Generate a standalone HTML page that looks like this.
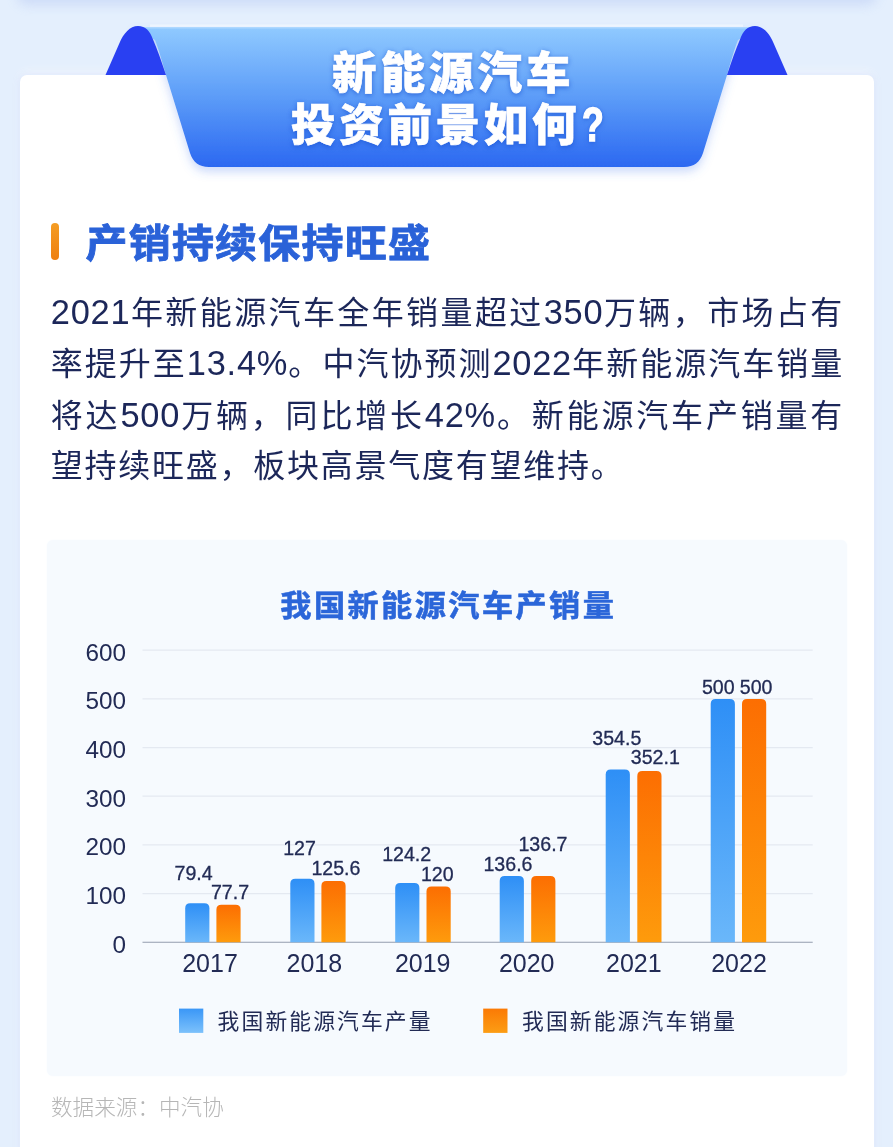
<!DOCTYPE html>
<html lang="zh-CN">
<head>
<meta charset="utf-8">
<title>新能源汽车投资前景如何?</title>
<style>
  html, body { margin: 0; padding: 0; }
  body {
    width: 893px; height: 1147px; overflow: hidden; position: relative;
    background: #e4effd;
    font-family: "Liberation Sans", "Noto Sans CJK SC", sans-serif;
  }
  .abs { position: absolute; }
  .topshadow {
    left: 19px; top: -40px; width: 856px; height: 40px; background: #fff;
    border-radius: 8px;
    box-shadow: 0 3px 11px 2px rgba(160,180,240,0.32);
  }
  .card {
    left: 20.3px; top: 75px; width: 853.5px; height: 1100px; background: #fff;
    border-radius: 7px;
    box-shadow: 0 0 7px rgba(150,170,245,0.25), 0 -4px 10px rgba(255,255,255,0.55);
  }
  .ribbon { left: 0; top: 0; width: 893px; height: 200px; }
  .title {
    color: #fff;
    font-weight: 900; font-size: 44.5px; line-height: 52px; white-space: nowrap; -webkit-text-stroke: 0.7px #fff;
    text-shadow: 0 2px 5px rgba(25,80,205,0.55), 0 0 4px rgba(30,90,215,0.35);
  }
  .title .q { display: inline-block; font-size: 43.5px; -webkit-text-stroke: 1.3px #fff; letter-spacing: 0; margin-left: 2px; transform: scale(0.82,1.12); transform-origin: 0 84%; }
  .t1 { left: 332px; top: 47.7px; letter-spacing: 4.0px; }
  .t2 { left: 291px; top: 100.2px; letter-spacing: 3.7px; }
  .hbar {
    left: 51.4px; top: 223.4px; width: 7.5px; height: 36.8px; border-radius: 4px;
    background: linear-gradient(180deg, #f59d24 0%, #ee7f10 100%);
  }
  .h2 {
    left: 85.5px; top: 214px; font-size: 42px; line-height: 60px; font-weight: 700; letter-spacing: 1.2px; -webkit-text-stroke: 0.9px #2a62d8;
    color: #2a62d8; white-space: nowrap;
    transform: scaleY(0.92); transform-origin: 0 27.5px;
  }
  .para {
    left: 50.8px; top: 287px; width: 793.3px; color: #1c2759;
    font-size: 32px; line-height: 51.4px; letter-spacing: 1.75px;
  }
  .para div { white-space: nowrap; height: 51.4px; text-align: justify; text-align-last: justify; }
  .para .n { font-size: 34.4px; letter-spacing: 0.75px; }
  .para div.last { text-align: left; text-align-last: left; letter-spacing: 1.75px; }
  .chartbox {
    left: 47.3px; top: 540.4px; width: 799.6px; height: 535.6px; border-radius: 6px;
    background: #f6fafe; box-shadow: 0 0 2px #f6fafe;
  }
  .chart { left: 0; top: 0; width: 893px; height: 1147px; }
  .src {
    left: 51px; top: 1092.6px; font-size: 21.6px; line-height: 30px; color: #b6b6b6;
    font-weight: 300; white-space: nowrap;
  }
</style>
</head>
<body>
<div class="abs topshadow"></div>
<div class="abs card"></div>

<svg class="abs ribbon" viewBox="0 0 893 200">
  <defs>
    <linearGradient id="rg" x1="0" y1="0" x2="0" y2="1">
      <stop offset="0" stop-color="#90caff"/>
      <stop offset="0.5" stop-color="#5c9cf8"/>
      <stop offset="1" stop-color="#2b68f1"/>
    </linearGradient>
    <filter id="rs" x="-5%" y="-10%" width="110%" height="135%">
      <feGaussianBlur in="SourceAlpha" stdDeviation="5"/>
      <feOffset dx="0" dy="5" result="b"/>
      <feFlood flood-color="#4a7df0" flood-opacity="0.28"/>
      <feComposite in2="b" operator="in"/>
      <feMerge><feMergeNode/><feMergeNode in="SourceGraphic"/></feMerge>
    </filter>
  </defs>
  <path filter="url(#rs)" fill="url(#rg)"
        d="M132,27 L761,27 L738,40 C734.5,49 731,61 727,75 L703,153 C700,162 694,167 684,167 L209,167 C199,167 193,162 190,153 L166,75 C162,61 158.5,49 155,40 Z"/>
  <path d="M150,25.6 L743,25.6" stroke="#ffffff" stroke-width="2.2" fill="none" opacity="0.45"/>
  <path d="M144,27.7 L749,27.7" stroke="#b4dbff" stroke-width="1.4" fill="none" opacity="0.8"/>
  <path d="M105.5,75 L119.5,43 C123.5,33.5 130,26 138,26 C145.5,26 150,31 153,39.5 C157,49 161.5,61 166,75 Z" fill="#2940f2"/>
  <path d="M787.5,75 L773.5,43 C769.5,33.5 763,26 755,26 C747.5,26 743,31 740,39.5 C736,49 731.5,61 727,75 Z" fill="#2940f2"/>
</svg>

<div class="abs title t1">新能源汽车</div>
<div class="abs title t2">投资前景如何<span class="q">?</span></div>

<div class="abs hbar"></div>
<div class="abs h2">产销持续保持旺盛</div>

<div class="abs para">
  <div><span class="n">2021</span>年新能源汽车全年销量超过<span class="n">350</span>万辆，市场占有</div>
  <div>率提升至<span class="n">13.4%</span>。中汽协预测<span class="n">2022</span>年新能源汽车销量</div>
  <div>将达<span class="n">500</span>万辆，同比增长<span class="n">42%</span>。新能源汽车产销量有</div>
  <div class="last">望持续旺盛，板块高景气度有望维持。</div>
</div>

<div class="abs chartbox"></div>
<!--CHART_START-->
<svg class="abs chart" viewBox="0 0 893 1147" font-family="Liberation Sans, Noto Sans CJK SC, sans-serif">
  <defs>
    <linearGradient id="gb" x1="0" y1="0" x2="0" y2="1"><stop offset="0" stop-color="#2e8ff6"/><stop offset="1" stop-color="#6ab7fa"/></linearGradient>
    <linearGradient id="go" x1="0" y1="0" x2="0" y2="1"><stop offset="0" stop-color="#fc6e02"/><stop offset="1" stop-color="#fe9b0c"/></linearGradient>
    <linearGradient id="lb" x1="0" y1="0" x2="0" y2="1"><stop offset="0" stop-color="#3a97f7"/><stop offset="1" stop-color="#7cc1fb"/></linearGradient>
    <linearGradient id="lo" x1="0" y1="0" x2="0" y2="1"><stop offset="0" stop-color="#fb7a05"/><stop offset="1" stop-color="#fc9d14"/></linearGradient>
  </defs>
  <text x="448.3" y="617" text-anchor="middle" font-size="31.2" font-weight="700" fill="#2b66d9" stroke="#2b66d9" stroke-width="0.6" letter-spacing="2.4" transform="translate(0,605.5) scale(1,0.94) translate(0,-605.5)">我国新能源汽车产销量</text>
  <line x1="142.5" x2="812.7" y1="650.2" y2="650.2" stroke="#e4e9f1" stroke-width="1.2"/>
  <line x1="142.5" x2="812.7" y1="698.9" y2="698.9" stroke="#e4e9f1" stroke-width="1.2"/>
  <line x1="142.5" x2="812.7" y1="747.6" y2="747.6" stroke="#e4e9f1" stroke-width="1.2"/>
  <line x1="142.5" x2="812.7" y1="796.2" y2="796.2" stroke="#e4e9f1" stroke-width="1.2"/>
  <line x1="142.5" x2="812.7" y1="844.9" y2="844.9" stroke="#e4e9f1" stroke-width="1.2"/>
  <line x1="142.5" x2="812.7" y1="893.6" y2="893.6" stroke="#e4e9f1" stroke-width="1.2"/>
  <line x1="142.5" x2="812.7" y1="942.3" y2="942.3" stroke="#939cae" stroke-width="1.1"/>
  <text x="126" y="660.5" text-anchor="end" font-size="24.3" fill="#222b55">600</text>
  <text x="126" y="709.2" text-anchor="end" font-size="24.3" fill="#222b55">500</text>
  <text x="126" y="757.9" text-anchor="end" font-size="24.3" fill="#222b55">400</text>
  <text x="126" y="806.5" text-anchor="end" font-size="24.3" fill="#222b55">300</text>
  <text x="126" y="855.2" text-anchor="end" font-size="24.3" fill="#222b55">200</text>
  <text x="126" y="903.9" text-anchor="end" font-size="24.3" fill="#222b55">100</text>
  <text x="126" y="952.6" text-anchor="end" font-size="24.3" fill="#222b55">0</text>
  <path d="M185.2,942.3 L185.2,908.3 Q185.2,903.3 190.2,903.3 L204.4,903.3 Q209.4,903.3 209.4,908.3 L209.4,942.3 Z" fill="url(#gb)"/>
  <path d="M216.4,942.3 L216.4,909.7 Q216.4,904.7 221.4,904.7 L235.6,904.7 Q240.6,904.7 240.6,909.7 L240.6,942.3 Z" fill="url(#go)"/>
  <path d="M290.3,942.3 L290.3,883.7 Q290.3,878.7 295.3,878.7 L309.5,878.7 Q314.5,878.7 314.5,883.7 L314.5,942.3 Z" fill="url(#gb)"/>
  <path d="M321.4,942.3 L321.4,885.9 Q321.4,880.9 326.4,880.9 L340.6,880.9 Q345.6,880.9 345.6,885.9 L345.6,942.3 Z" fill="url(#go)"/>
  <path d="M395.2,942.3 L395.2,888.0 Q395.2,883.0 400.2,883.0 L414.4,883.0 Q419.4,883.0 419.4,888.0 L419.4,942.3 Z" fill="url(#gb)"/>
  <path d="M426.5,942.3 L426.5,891.6 Q426.5,886.6 431.5,886.6 L445.7,886.6 Q450.7,886.6 450.7,891.6 L450.7,942.3 Z" fill="url(#go)"/>
  <path d="M499.7,942.3 L499.7,881.0 Q499.7,876.0 504.7,876.0 L518.9,876.0 Q523.9,876.0 523.9,881.0 L523.9,942.3 Z" fill="url(#gb)"/>
  <path d="M531.2,942.3 L531.2,881.0 Q531.2,876.0 536.2,876.0 L550.4,876.0 Q555.4,876.0 555.4,881.0 L555.4,942.3 Z" fill="url(#go)"/>
  <path d="M605.7,942.3 L605.7,774.6 Q605.7,769.6 610.7,769.6 L624.9,769.6 Q629.9,769.6 629.9,774.6 L629.9,942.3 Z" fill="url(#gb)"/>
  <path d="M637.3,942.3 L637.3,776.0 Q637.3,771.0 642.3,771.0 L656.5,771.0 Q661.5,771.0 661.5,776.0 L661.5,942.3 Z" fill="url(#go)"/>
  <path d="M710.7,942.3 L710.7,703.9 Q710.7,698.9 715.7,698.9 L729.9,698.9 Q734.9,698.9 734.9,703.9 L734.9,942.3 Z" fill="url(#gb)"/>
  <path d="M742.0,942.3 L742.0,703.9 Q742.0,698.9 747.0,698.9 L761.2,698.9 Q766.2,698.9 766.2,703.9 L766.2,942.3 Z" fill="url(#go)"/>
  <text x="193.6" y="879.8" text-anchor="middle" font-size="19.6" fill="#222b55" stroke="#222b55" stroke-width="0.3">79.4</text>
  <text x="230.0" y="899.3" text-anchor="middle" font-size="19.6" fill="#222b55" stroke="#222b55" stroke-width="0.3">77.7</text>
  <text x="299.5" y="854.8" text-anchor="middle" font-size="19.6" fill="#222b55" stroke="#222b55" stroke-width="0.3">127</text>
  <text x="335.9" y="874.7" text-anchor="middle" font-size="19.6" fill="#222b55" stroke="#222b55" stroke-width="0.3">125.6</text>
  <text x="406.7" y="860.8" text-anchor="middle" font-size="19.6" fill="#222b55" stroke="#222b55" stroke-width="0.3">124.2</text>
  <text x="437.3" y="881.2" text-anchor="middle" font-size="19.6" fill="#222b55" stroke="#222b55" stroke-width="0.3">120</text>
  <text x="508.0" y="870.8" text-anchor="middle" font-size="19.6" fill="#222b55" stroke="#222b55" stroke-width="0.3">136.6</text>
  <text x="543.0" y="850.5" text-anchor="middle" font-size="19.6" fill="#222b55" stroke="#222b55" stroke-width="0.3">136.7</text>
  <text x="616.8" y="745.0" text-anchor="middle" font-size="19.6" fill="#222b55" stroke="#222b55" stroke-width="0.3">354.5</text>
  <text x="655.3" y="763.8" text-anchor="middle" font-size="19.6" fill="#222b55" stroke="#222b55" stroke-width="0.3">352.1</text>
  <text x="718.3" y="693.6" text-anchor="middle" font-size="19.6" fill="#222b55" stroke="#222b55" stroke-width="0.3">500</text>
  <text x="756.1" y="693.6" text-anchor="middle" font-size="19.6" fill="#222b55" stroke="#222b55" stroke-width="0.3">500</text>
  <text x="210.0" y="972.1" text-anchor="middle" font-size="25" fill="#222b55">2017</text>
  <text x="314.3" y="972.1" text-anchor="middle" font-size="25" fill="#222b55">2018</text>
  <text x="422.7" y="972.1" text-anchor="middle" font-size="25" fill="#222b55">2019</text>
  <text x="526.7" y="972.1" text-anchor="middle" font-size="25" fill="#222b55">2020</text>
  <text x="633.8" y="972.1" text-anchor="middle" font-size="25" fill="#222b55">2021</text>
  <text x="739.0" y="972.1" text-anchor="middle" font-size="25" fill="#222b55">2022</text>
  <rect x="179" y="1008.6" width="24.3" height="24.3" fill="url(#lb)"/>
  <text x="217.6" y="1028.8" font-size="21.8" letter-spacing="2.1" fill="#222b55">我国新能源汽车产量</text>
  <rect x="483.2" y="1008.6" width="24.3" height="24.3" fill="url(#lo)"/>
  <text x="522" y="1028.8" font-size="21.8" letter-spacing="2.1" fill="#222b55">我国新能源汽车销量</text>
</svg>
<!--CHART_END-->
<div class="abs src">数据来源：中汽协</div>
</body>
</html>
